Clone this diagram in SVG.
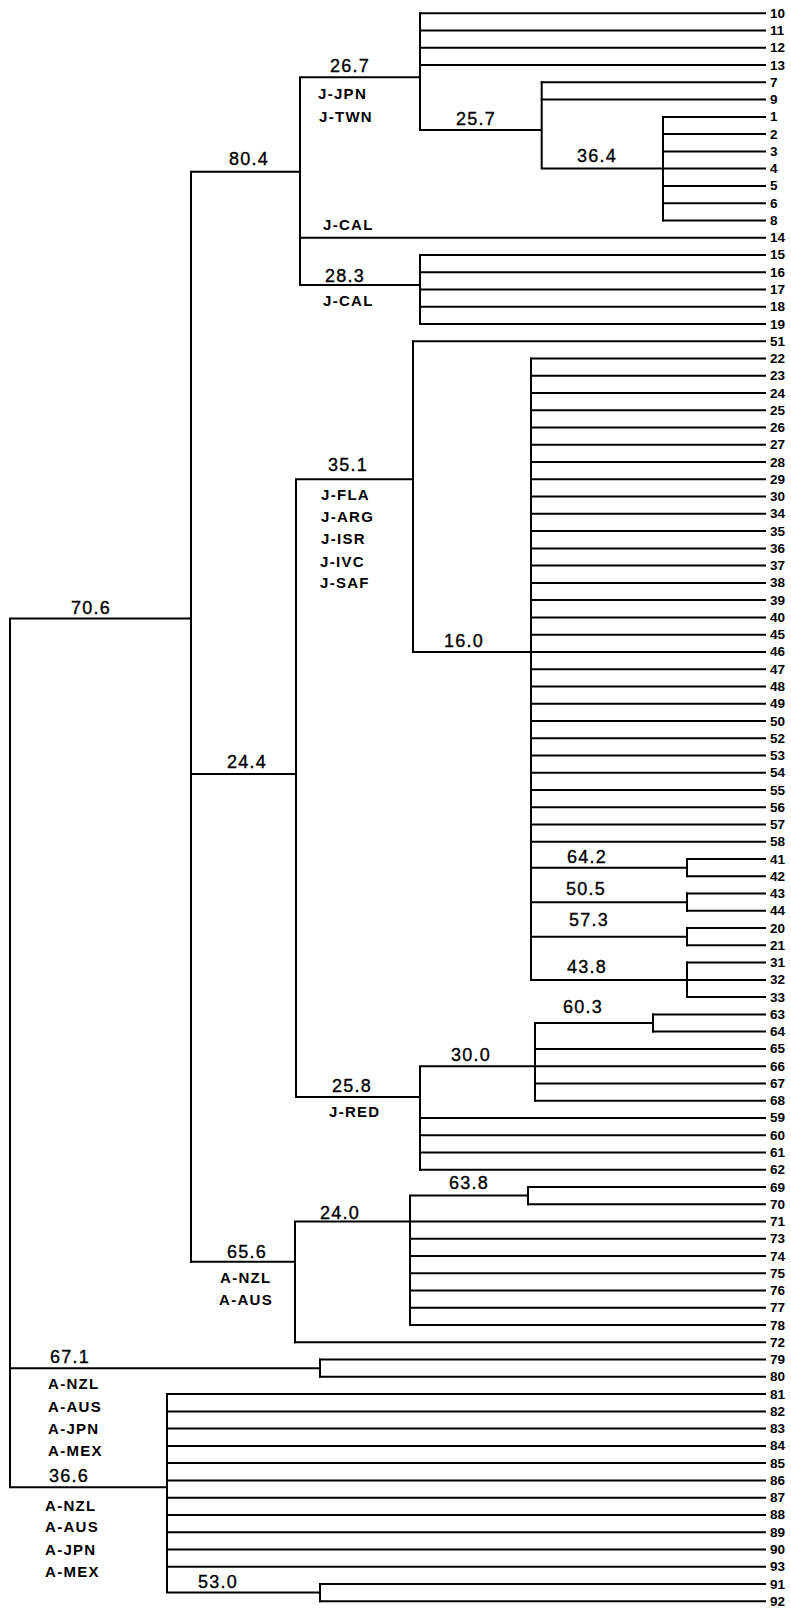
<svg xmlns="http://www.w3.org/2000/svg" width="791" height="1611" viewBox="0 0 791 1611">
<style>
.ln{stroke:#000;stroke-width:2;fill:none;stroke-linecap:square}
.num{font-family:"Liberation Sans",Arial,sans-serif;font-size:18px;letter-spacing:1.2px;text-anchor:middle;fill:#000;stroke:#000;stroke-width:0.35}
.grp{font-family:"Liberation Sans",Arial,sans-serif;font-size:15px;font-weight:bold;letter-spacing:1.3px;fill:#000}
.leaf{font-family:"Liberation Sans",Arial,sans-serif;font-size:13.5px;font-weight:bold;fill:#000}
</style>
<rect width="791" height="1611" fill="#fff"/>
<g id="connectors" class="ln">
<path d="M10 618.5V1487.3M10 618.5H191M10 1368.2H320M320 1359.6V1376.8M10 1487.3H167M167 1394.1V1592.6M167 1592.6H320M320 1584V1601.2"/>
<path d="M191 171.7V1261.7M191 171.7H300M300 77.3V285M300 77.3H420M420 13.3V130M420 130H541.7M541.7 82.3V168.6M541.7 168.6H663M663 116.9V220.4M300 285H420M420 254.9V324"/>
<path d="M191 774H296M296 479.3V1097M296 479.3H413M413 341.2V651.9M413 651.9H531M531 358.5V979.9M531 867.7H687M687 859V876.3M531 902.2H687M687 893.6V910.8M531 936.7H687M687 928.1V945.3M531 979.9H687M687 962.6V997.1"/>
<path d="M296 1097H420M420 1066.2V1169.7M420 1066.2H535M535 1023V1100.7M535 1023H653M653 1014.4V1031.6"/>
<path d="M191 1261.7H295M295 1221.5V1342.3M295 1221.5H410M410 1195.6V1325.1M410 1195.6H528M528 1187V1204.2"/>
<path d="M420 13.3H765M420 30.6H765M420 47.8H765M420 65.1H765M541.7 82.3H765M541.7 99.6H765M663 116.9H765M663 134.1H765M663 151.4H765M663 168.6H765M663 185.9H765M663 203.2H765M663 220.4H765M300 237.7H765M420 254.9H765M420 272.2H765M420 289.5H765M420 306.7H765M420 324H765M413 341.2H765"/>
<path d="M531 358.5H765M531 375.8H765M531 393H765M531 410.3H765M531 427.5H765M531 444.8H765M531 462.1H765M531 479.3H765M531 496.6H765M531 513.8H765M531 531.1H765M531 548.4H765M531 565.6H765M531 582.9H765M531 600.1H765M531 617.4H765M531 634.7H765M531 651.9H765M531 669.2H765M531 686.4H765M531 703.7H765M531 721H765M531 738.2H765M531 755.5H765M531 772.7H765M531 790H765M531 807.3H765M531 824.5H765M531 841.8H765"/>
<path d="M687 859H765M687 876.3H765M687 893.6H765M687 910.8H765M687 928.1H765M687 945.3H765M687 962.6H765M687 979.9H765M687 997.1H765M653 1014.4H765M653 1031.6H765M535 1048.9H765M535 1066.2H765M535 1083.4H765M535 1100.7H765M420 1117.9H765M420 1135.2H765M420 1152.5H765M420 1169.7H765"/>
<path d="M528 1187H765M528 1204.2H765M410 1221.5H765M410 1238.8H765M410 1256H765M410 1273.3H765M410 1290.5H765M410 1307.8H765M410 1325.1H765M295 1342.3H765M320 1359.6H765M320 1376.8H765"/>
<path d="M167 1394.1H765M167 1411.4H765M167 1428.6H765M167 1445.9H765M167 1463.1H765M167 1480.4H765M167 1497.7H765M167 1514.9H765M167 1532.2H765M167 1549.4H765M167 1566.7H765M320 1584H765M320 1601.2H765"/>
</g>
<g id="n-26.7"><text class="num" x="350" y="71.7">26.7</text><text class="grp" x="318" y="99">J-JPN</text><text class="grp" x="319" y="121.7">J-TWN</text></g>
<g id="n-25.7"><text class="num" x="476" y="125">25.7</text></g>
<g id="n-36.4"><text class="num" x="597" y="162">36.4</text></g>
<g id="n-80.4"><text class="num" x="249" y="165">80.4</text></g>
<g id="n-jcal14"><text class="grp" x="323" y="230">J-CAL</text></g>
<g id="n-28.3"><text class="num" x="345" y="281.7">28.3</text><text class="grp" x="323" y="305.7">J-CAL</text></g>
<g id="n-35.1"><text class="num" x="348" y="471">35.1</text><text class="grp" x="321" y="500">J-FLA</text><text class="grp" x="321" y="522.3">J-ARG</text><text class="grp" x="321" y="544">J-ISR</text><text class="grp" x="320" y="566.7">J-IVC</text><text class="grp" x="320" y="588.3">J-SAF</text></g>
<g id="n-70.6"><text class="num" x="91" y="614">70.6</text></g>
<g id="n-16.0"><text class="num" x="464" y="647">16.0</text></g>
<g id="n-24.4"><text class="num" x="247" y="768">24.4</text></g>
<g id="n-64.2"><text class="num" x="587" y="863">64.2</text></g>
<g id="n-50.5"><text class="num" x="586" y="895">50.5</text></g>
<g id="n-57.3"><text class="num" x="589" y="926">57.3</text></g>
<g id="n-43.8"><text class="num" x="587" y="973">43.8</text></g>
<g id="n-60.3"><text class="num" x="583" y="1013">60.3</text></g>
<g id="n-30.0"><text class="num" x="471" y="1061">30.0</text></g>
<g id="n-25.8"><text class="num" x="352" y="1092">25.8</text><text class="grp" x="329" y="1117">J-RED</text></g>
<g id="n-63.8"><text class="num" x="469" y="1189">63.8</text></g>
<g id="n-24.0"><text class="num" x="340" y="1219">24.0</text></g>
<g id="n-65.6"><text class="num" x="247" y="1258">65.6</text><text class="grp" x="220" y="1283">A-NZL</text><text class="grp" x="219" y="1305">A-AUS</text></g>
<g id="n-67.1"><text class="num" x="70" y="1363">67.1</text><text class="grp" x="48" y="1389">A-NZL</text><text class="grp" x="48" y="1411.7">A-AUS</text><text class="grp" x="48" y="1434">A-JPN</text><text class="grp" x="48" y="1456">A-MEX</text></g>
<g id="n-36.6"><text class="num" x="69" y="1482">36.6</text><text class="grp" x="45" y="1510.7">A-NZL</text><text class="grp" x="45" y="1532">A-AUS</text><text class="grp" x="45" y="1555">A-JPN</text><text class="grp" x="45" y="1577">A-MEX</text></g>
<g id="n-53.0"><text class="num" x="218" y="1588">53.0</text></g>
<g id="leaves" class="leaf">
<text x="770" y="17.8">10</text><text x="770" y="35.1">11</text><text x="770" y="52.3">12</text><text x="770" y="69.6">13</text><text x="770" y="86.8">7</text><text x="770" y="104.1">9</text><text x="770" y="121.4">1</text><text x="770" y="138.6">2</text><text x="770" y="155.9">3</text><text x="770" y="173.1">4</text><text x="770" y="190.4">5</text><text x="770" y="207.7">6</text><text x="770" y="224.9">8</text><text x="770" y="242.2">14</text><text x="770" y="259.4">15</text><text x="770" y="276.7">16</text><text x="770" y="294">17</text><text x="770" y="311.2">18</text><text x="770" y="328.5">19</text><text x="770" y="345.7">51</text>
<text x="770" y="363">22</text><text x="770" y="380.3">23</text><text x="770" y="397.5">24</text><text x="770" y="414.8">25</text><text x="770" y="432">26</text><text x="770" y="449.3">27</text><text x="770" y="466.6">28</text><text x="770" y="483.8">29</text><text x="770" y="501.1">30</text><text x="770" y="518.3">34</text><text x="770" y="535.6">35</text><text x="770" y="552.9">36</text><text x="770" y="570.1">37</text><text x="770" y="587.4">38</text><text x="770" y="604.6">39</text><text x="770" y="621.9">40</text><text x="770" y="639.2">45</text><text x="770" y="656.4">46</text><text x="770" y="673.7">47</text><text x="770" y="690.9">48</text><text x="770" y="708.2">49</text><text x="770" y="725.5">50</text><text x="770" y="742.7">52</text><text x="770" y="760">53</text><text x="770" y="777.2">54</text><text x="770" y="794.5">55</text><text x="770" y="811.8">56</text><text x="770" y="829">57</text><text x="770" y="846.3">58</text>
<text x="770" y="863.5">41</text><text x="770" y="880.8">42</text><text x="770" y="898.1">43</text><text x="770" y="915.3">44</text><text x="770" y="932.6">20</text><text x="770" y="949.8">21</text><text x="770" y="967.1">31</text><text x="770" y="984.4">32</text><text x="770" y="1001.6">33</text><text x="770" y="1018.9">63</text><text x="770" y="1036.1">64</text><text x="770" y="1053.4">65</text><text x="770" y="1070.7">66</text><text x="770" y="1087.9">67</text><text x="770" y="1105.2">68</text><text x="770" y="1122.4">59</text><text x="770" y="1139.7">60</text><text x="770" y="1157">61</text><text x="770" y="1174.2">62</text>
<text x="770" y="1191.5">69</text><text x="770" y="1208.7">70</text><text x="770" y="1226">71</text><text x="770" y="1243.3">73</text><text x="770" y="1260.5">74</text><text x="770" y="1277.8">75</text><text x="770" y="1295">76</text><text x="770" y="1312.3">77</text><text x="770" y="1329.6">78</text><text x="770" y="1346.8">72</text><text x="770" y="1364.1">79</text><text x="770" y="1381.3">80</text>
<text x="770" y="1398.6">81</text><text x="770" y="1415.9">82</text><text x="770" y="1433.1">83</text><text x="770" y="1450.4">84</text><text x="770" y="1467.6">85</text><text x="770" y="1484.9">86</text><text x="770" y="1502.2">87</text><text x="770" y="1519.4">88</text><text x="770" y="1536.7">89</text><text x="770" y="1553.9">90</text><text x="770" y="1571.2">93</text><text x="770" y="1588.5">91</text><text x="770" y="1605.7">92</text>
</g>
</svg>
